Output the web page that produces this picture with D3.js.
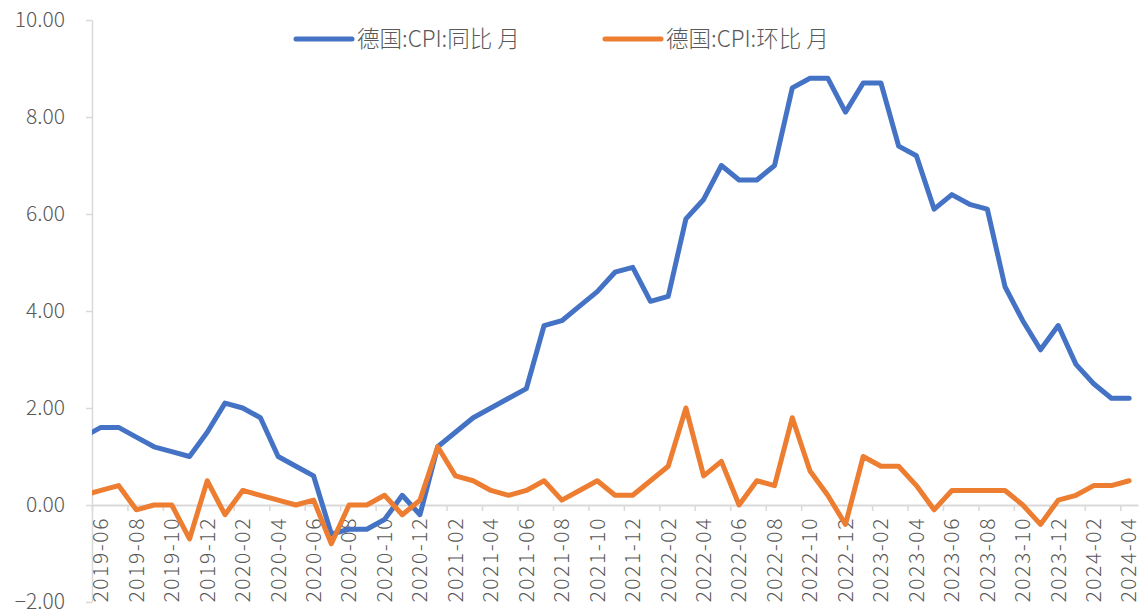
<!DOCTYPE html>
<html>
<head>
<meta charset="utf-8">
<script src="https://cdn.jsdelivr.net/npm/d3@7"></script>
<style>
  body { margin: 0; background: #fff; }
  svg text { font-family: "Noto Sans CJK SC", "Noto Sans", sans-serif; font-weight: 300; fill: #595959; }
</style>
</head>
<body>
<div id="chart"></div>
<script>
// months shown on the axis run 2019-06 .. 2024-04, data starts one month earlier (clipped)
var firstMonth = new Date(Date.UTC(2019, 4, 1));
var seriesNames = ['德国:CPI:同比 月', '德国:CPI:环比 月'];
var seriesColors = ['#4472C4', '#ED7D31'];
var yTicks = [-2, 0, 2, 4, 6, 8, 10];

// 德国 CPI 同比, 2019-05 .. 2024-04
var cpiYoy = [1.4,
  1.6, 1.6, 1.4, 1.2, 1.1, 1.0, 1.5,
  2.1, 2.0, 1.8, 1.0, 0.8, 0.6, -0.6, -0.5, -0.5, -0.3, 0.2, -0.2,
  1.2, 1.5, 1.8, 2.0, 2.2, 2.4, 3.7, 3.8, 4.1, 4.4, 4.8, 4.9,
  4.2, 4.3, 5.9, 6.3, 7.0, 6.7, 6.7, 7.0, 8.6, 8.8, 8.8, 8.1,
  8.7, 8.7, 7.4, 7.2, 6.1, 6.4, 6.2, 6.1, 4.5, 3.8, 3.2, 3.7,
  2.9, 2.5, 2.2, 2.2];

// 德国 CPI 环比, 2019-05 .. 2024-04
var cpiMom = [0.2,
  0.3, 0.4, -0.1, 0.0, 0.0, -0.7, 0.5,
  -0.2, 0.3, 0.2, 0.1, 0.0, 0.1, -0.8, 0.0, 0.0, 0.2, -0.2, 0.1,
  1.2, 0.6, 0.5, 0.3, 0.2, 0.3, 0.5, 0.1, 0.3, 0.5, 0.2, 0.2,
  0.5, 0.8, 2.0, 0.6, 0.9, 0.0, 0.5, 0.4, 1.8, 0.7, 0.2, -0.4,
  1.0, 0.8, 0.8, 0.4, -0.1, 0.3, 0.3, 0.3, 0.3, 0.0, -0.4, 0.1,
  0.2, 0.4, 0.4, 0.5];

var width = 1146, height = 614;
var plot = { left: 92, right: 1138, top: 20, bottom: 602 };

var months = d3.utcMonth.range(firstMonth, d3.utcMonth.offset(firstMonth, cpiYoy.length));
var fmtMonth = d3.utcFormat('%Y-%m');

// index 0 = 2019-06 (first category shown), data index -1 = 2019-05
var nShown = months.length - 1;
var x = d3.scaleLinear().domain([-0.5, nShown - 0.5]).range([plot.left, plot.right]);
var y = d3.scaleLinear().domain([-2, 10]).range([plot.bottom, plot.top]);

var svg = d3.select('#chart').append('svg')
    .attr('width', width)
    .attr('height', height);

svg.append('clipPath').attr('id', 'plot-clip')
  .append('rect')
    .attr('x', plot.left).attr('y', 0)
    .attr('width', plot.right - plot.left).attr('height', height);

// y axis
var yAxis = svg.append('g')
    .attr('transform', 'translate(' + plot.left + ',0)')
    .call(d3.axisLeft(y).tickValues(yTicks).tickFormat(d3.format('.2f'))
      .tickSize(6).tickSizeOuter(0).tickPadding(21));
yAxis.select('.domain').attr('stroke', '#D9D9D9').attr('stroke-width', 1.5);
yAxis.selectAll('.tick line').attr('stroke', '#D9D9D9').attr('stroke-width', 1.5);
yAxis.selectAll('.tick text').attr('font-size', 21).style('fill', '#595959');

// x axis at zero, tick marks every two months between categories
var tickPos = d3.range(-0.5, nShown, 2);
var xAxis = svg.append('g')
    .attr('transform', 'translate(0,' + y(0) + ')')
    .call(d3.axisBottom(x).tickValues(tickPos).tickFormat('')
      .tickSize(6).tickSizeOuter(0));
xAxis.select('.domain').attr('stroke', '#D9D9D9').attr('stroke-width', 2);
xAxis.selectAll('.tick line').attr('stroke', '#D9D9D9').attr('stroke-width', 1.5);

var labelIdx = d3.range(0, nShown, 2);
svg.append('g').selectAll('text')
  .data(labelIdx)
  .enter()
  .append('text')
    .attr('transform', function(i) { return 'translate(' + x(i) + ',' + (y(0) + 12) + ') rotate(-90)'; })
    .attr('text-anchor', 'end')
    .attr('dy', '0.35em')
    .attr('font-size', 21)
    .attr('letter-spacing', 1.6)
    .text(function(i) { return fmtMonth(months[i + 1]); });

// lines
var line = d3.line()
    .x(function(d, i) { return x(i - 1); })
    .y(function(d) { return y(d); });

var lines = svg.append('g').attr('clip-path', 'url(#plot-clip)');
[cpiYoy, cpiMom].forEach(function(s, k) {
  lines.append('path')
      .attr('d', line(s))
      .attr('fill', 'none')
      .attr('stroke', seriesColors[k])
      .attr('stroke-width', 5)
      .attr('stroke-linejoin', 'round')
      .attr('stroke-linecap', 'round');
});

// legend
var legendX = [296, 605];
seriesNames.forEach(function(name, k) {
  var g = svg.append('g').attr('transform', 'translate(' + legendX[k] + ',39)');
  g.append('line')
      .attr('x1', 0).attr('x2', 56)
      .attr('stroke', seriesColors[k])
      .attr('stroke-width', 5)
      .attr('stroke-linecap', 'round');
  g.append('text')
      .attr('x', 61)
      .attr('dy', '0.35em')
      .attr('font-size', 22.5)
      .text(name);
});
</script>
</body>
</html>
